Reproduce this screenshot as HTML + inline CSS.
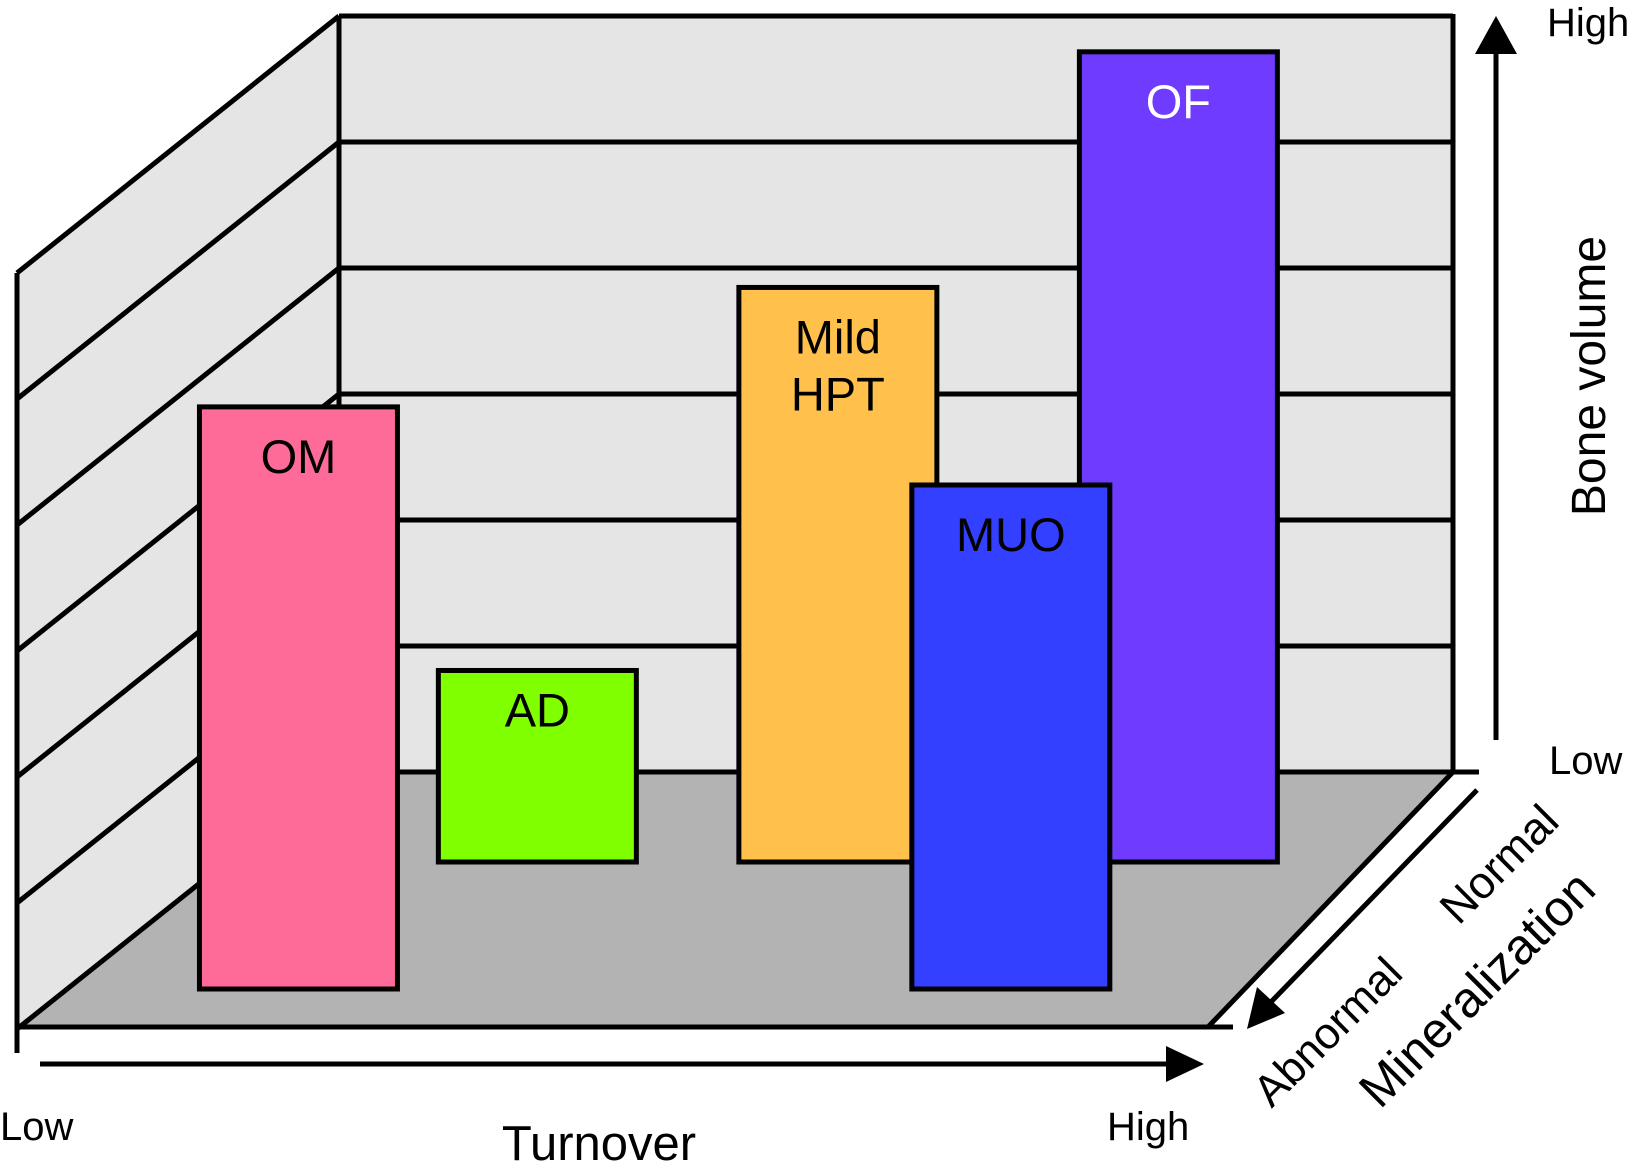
<!DOCTYPE html>
<html><head><meta charset="utf-8"><style>
html,body{margin:0;padding:0;background:#fff;}
svg{display:block;font-family:"Liberation Sans",Arial,sans-serif;}
</style></head><body>
<svg id="chart" width="1632" height="1167" viewBox="0 0 1632 1167" xmlns="http://www.w3.org/2000/svg">
<g id="walls"></g>
<g id="bars"></g>
<g id="axes">
  <line x1="40" y1="1064" x2="1170" y2="1064" stroke="#000" stroke-width="5"/>
  <polygon points="1166,1046 1204,1064 1166,1082" fill="#000"/>
  <line x1="1496" y1="740" x2="1496" y2="50" stroke="#000" stroke-width="5"/>
  <polygon points="1475,54 1496,16 1517,54" fill="#000"/>
  <line x1="1477" y1="790" x2="1270" y2="1003" stroke="#000" stroke-width="5"/>
  <polygon points="1247,1029 1257,987 1285,1013" fill="#000"/>
</g>
<g id="labels" fill="#000">
  <text x="1547" y="36" font-size="40">High</text>
  <text x="1549" y="774" font-size="40">Low</text>
  <text transform="translate(1605,376) rotate(-90)" text-anchor="middle" font-size="48">Bone volume</text>
  <text x="0" y="1140" font-size="40">Low</text>
  <text x="1107" y="1140" font-size="40">High</text>
  <text x="599" y="1160" text-anchor="middle" font-size="49">Turnover</text>
  <text transform="translate(1477,989) rotate(-45)" text-anchor="middle" dominant-baseline="central" font-size="50">Mineralization</text>
  <text transform="translate(1328,1032) rotate(-45)" text-anchor="middle" dominant-baseline="central" font-size="44">Abnormal</text>
  <text transform="translate(1499,864) rotate(-45)" text-anchor="middle" dominant-baseline="central" font-size="45">Normal</text>
</g>
<script>
const categories = ["OM", "AD", "Mild HPT", "OF", "MUO"];
const boneVolume = [4.62, 1.52, 4.56, 6.43, 4.0];
const turnoverPos = [0.092, 0.313, 0.591, 0.906, 0.751];
const mineralRow = [1, 0, 0, 0, 1];
const barColors = ["#FF6B99", "#80FF00", "#FFC04C", "#6E3BFF", "#3340FF"];
const labelColors = ["#000", "#000", "#000", "#fff", "#000"];
const gridLevels = [0, 1, 2, 3, 4, 5, 6];

const NS = "http://www.w3.org/2000/svg";
const wallTop = 16, wallBottom = 772, wallL = 339, wallR = 1453;
const unit = (wallBottom - wallTop) / 6;
const depthDx = 322, depthDy = 257;
const rowBase = [862, 989];
const barW = 198;
function yScale(v, row) { return rowBase[row] - v * unit; }
function xScale(t) { return 199 + t * 1081; }
function mk(tag, attrs, parent) {
  const e = document.createElementNS(NS, tag);
  for (const k in attrs) e.setAttribute(k, attrs[k]);
  parent.appendChild(e);
  return e;
}
const walls = document.getElementById("walls");
let e;
e = mk("polygon", {points: `${wallL},${wallTop} ${wallR},${wallTop} ${wallR},${wallBottom} ${wallL},${wallBottom}`, fill: "#E5E5E5"}, walls);


e = mk("polygon", {points: `${wallL},${wallTop} ${wallL - depthDx},${wallTop + depthDy} ${wallL - depthDx},${wallBottom + depthDy} ${wallL},${wallBottom}`, fill: "#E5E5E5"}, walls);


e = mk("polygon", {points: `${wallL},${wallBottom} ${wallR},${wallBottom} 1208,1027 ${wallL - depthDx},1027`, fill: "#B3B3B3"}, walls);


gridLevels.forEach(g => {
  const y = wallBottom - g * unit;
  let l = mk("line", {x1: wallL, y1: y, x2: g === 0 ? 1479 : wallR, y2: y, stroke: "#000", "stroke-width": 5}, walls);
  
  
  l = mk("line", {x1: wallL, y1: y, x2: wallL - depthDx, y2: y + depthDy, stroke: "#000", "stroke-width": 5}, walls);
  
  
});
e = mk("line", {x1: wallL, y1: wallTop, x2: wallL, y2: wallBottom, stroke: "#000", "stroke-width": 5}, walls);


e = mk("line", {x1: wallR, y1: wallTop - 2, x2: wallR, y2: wallBottom, stroke: "#000", "stroke-width": 5}, walls);


e = mk("line", {x1: 17, y1: wallTop + depthDy, x2: 17, y2: 1053, stroke: "#000", "stroke-width": 5}, walls);


e = mk("line", {x1: 17, y1: 1027, x2: 1233, y2: 1027, stroke: "#000", "stroke-width": 5}, walls);


e = mk("line", {x1: wallR, y1: wallBottom, x2: 1208, y2: 1027, stroke: "#000", "stroke-width": 5}, walls);



const bars = document.getElementById("bars");
categories.forEach((c, i) => {
  const row = mineralRow[i];
  const bx = xScale(turnoverPos[i]) - barW / 2;
  const top = yScale(boneVolume[i], row);
  const r = mk("rect", {x: bx, y: top, width: barW, height: rowBase[row] - top, fill: barColors[i], stroke: "#000", "stroke-width": 5}, bars);
  
  
  const lines = c === "Mild HPT" ? ["Mild", "HPT"] : [c];
  const off = c === "AD" ? 56 : 66;
  lines.forEach((s, k) => {
    const t = mk("text", {x: bx + barW / 2, y: top + off + k * 57, "text-anchor": "middle", "font-size": 47, fill: labelColors[i]}, bars);
    t.textContent = s;
    
    
  });
});
</script>
</svg>
</body></html>
